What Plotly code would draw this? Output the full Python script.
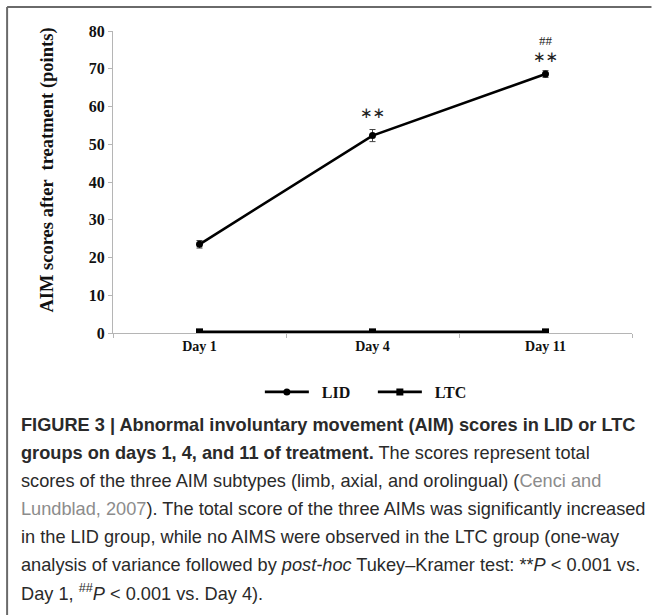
import plotly.graph_objects as go

# ---- data ----
days = ["Day 1", "Day 4", "Day 11"]
lid_scores = [23.5, 52.3, 68.6]
lid_err = [1.0, 1.6, 0.9]
ltc_scores = [0.3, 0.3, 0.3]
y_ticks = [0, 10, 20, 30, 40, 50, 60, 70, 80]

# ---- layout geometry (pixels) ----
W, H = 652, 615
ML, MR, MT, MB = 113, 19.5, 31, 282
PW, PH = W - ML - MR, H - MT - MB


def px(x):
    return (x - ML) / PW


def py(y):
    return (H - MB - y) / PH


NB = "\u00a0"
fig = go.Figure()
fig.add_trace(go.Scatter(
    x=days, y=lid_scores, name=NB * 2 + "LID", mode="lines+markers",
    line=dict(color="black", width=2.6),
    marker=dict(symbol="circle", size=7, color="black"),
    error_y=dict(type="data", array=lid_err, visible=True, color="#444", thickness=1, width=3),
))
fig.add_trace(go.Scatter(
    x=days, y=ltc_scores, name=NB * 2 + "LTC", mode="lines+markers",
    line=dict(color="black", width=2.6),
    marker=dict(symbol="square", size=7, color="black"),
))

serif = "Liberation Serif"
# significance marks
fig.add_annotation(x="Day 4", y=58.3, text="∗∗", showarrow=False,
                   font=dict(family="DejaVu Sans", size=15, color="#222"))
fig.add_annotation(x="Day 11", y=73.2, text="∗∗", showarrow=False,
                   font=dict(family="DejaVu Sans", size=15, color="#222"))
fig.add_annotation(x="Day 11", y=77.6, text="##", showarrow=False,
                   font=dict(family=serif, size=13, color="#222"))

# y-axis title
fig.add_annotation(xref="paper", yref="paper", x=px(34), y=py(170),
                   text="<b>AIM scores after  treatment (points)</b>", textangle=-90,
                   showarrow=False, font=dict(family=serif, size=18.5, color="#111"))

# caption
gray = "#8c8c8c"
cap_lines = [
    "<b>FIGURE 3 | Abnormal involuntary movement (AIM) scores in LID or LTC</b>",
    "<b>groups on days 1, 4, and 11 of treatment.</b> The scores represent total",
    f"scores of the three AIM subtypes (limb, axial, and orolingual) (<span style='color:{gray}'>Cenci and</span>",
    f"<span style='color:{gray}'>Lundblad, 2007</span>). The total score of the three AIMs was significantly increased",
    "in the LID group, while no AIMS were observed in the LTC group (one-way",
    "analysis of variance followed by <i>post-hoc</i> Tukey–Kramer test: **<i>P</i> < 0.001 vs.",
    "Day 1, <sup>##</sup><i>P</i> < 0.001 vs. Day 4).",
]
cap_y = [425, 453, 481, 509, 537, 565, 592]
for t, yy in zip(cap_lines, cap_y):
    fig.add_annotation(xref="paper", yref="paper", x=px(19), y=py(yy), xanchor="left",
                       yanchor="middle", text=t, showarrow=False, align="left",
                       font=dict(family="Liberation Sans", size=18.2, color="#2a2a2a"))

# frame lines (top & left)
fig.add_shape(type="line", xref="paper", yref="paper", x0=px(7), x1=px(W), y0=py(7), y1=py(7),
              line=dict(color="#6a6a6a", width=2))
fig.add_shape(type="line", xref="paper", yref="paper", x0=px(7), x1=px(7), y0=py(7), y1=py(H),
              line=dict(color="#6a6a6a", width=2))

fig.update_layout(
    width=W, height=H,
    margin=dict(l=ML, r=MR, t=MT, b=MB),
    paper_bgcolor="white", plot_bgcolor="white",
    showlegend=True,
    legend=dict(orientation="h", x=px(260), xanchor="left", y=py(392), yanchor="middle",
                font=dict(family=serif, size=16, color="#111", weight="bold"),
                itemwidth=44, entrywidth=54, entrywidthmode="pixels", bgcolor="rgba(0,0,0,0)"),
    xaxis=dict(type="category", range=[-0.5, 2.5], showline=True, linecolor="#b5b5b5", linewidth=1,
               ticks="outside", tickson="boundaries", ticklen=4, tickcolor="#b5b5b5",
               showgrid=False, zeroline=False,
               tickfont=dict(family=serif, size=14, color="#111", weight="bold")),
    yaxis=dict(range=[0, 80], tickvals=y_ticks, showline=True, linecolor="#b5b5b5", linewidth=1,
               ticks="outside", ticklen=4, tickcolor="#b5b5b5", showgrid=False, zeroline=False,
               tickfont=dict(family=serif, size=16, color="#111", weight="bold")),
)

fig.write_html("out.html", config={"displayModeBar": False},
               post_script="document.body.style.margin='0';")
